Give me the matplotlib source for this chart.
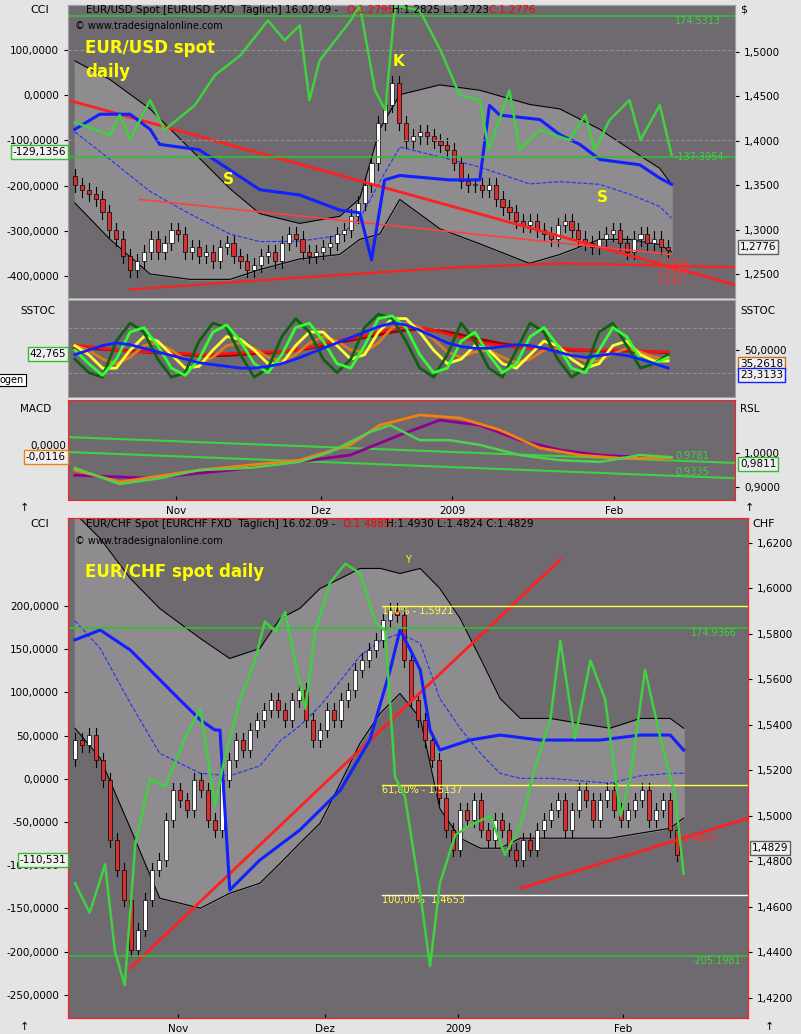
import matplotlib
matplotlib.use("Agg")
import matplotlib.pyplot as plt
import numpy as np

W, H = 801, 1034
BG = "#6e6a70"
PANEL = "#e4e4e4"

# ---------------- data: EUR/USD ----------------
usd_close = [1.350,1.345,1.340,1.335,1.320,1.300,1.290,1.270,1.255,1.265,1.275,1.290,1.275,
             1.285,1.300,1.295,1.275,1.280,1.270,1.275,1.265,1.280,1.285,1.270,1.265,1.255,1.260,1.270,1.275,1.265,1.285,1.295,1.290,
             1.275,1.270,1.275,1.280,1.285,1.295,1.300,1.315,1.330,1.350,1.375,1.420,1.440,1.465,1.420,1.400,1.405,1.410,1.405,1.400,1.395,
             1.390,1.375,1.355,1.350,1.350,1.345,1.350,1.335,1.325,1.320,1.310,1.305,1.310,1.300,1.295,1.290,1.305,1.310,1.300,1.290,1.285,
             1.280,1.290,1.295,1.300,1.285,1.275,1.290,1.295,1.285,1.290,1.280,1.2776]
usd_open0 = 1.360
usd_cci_x = [0,5.1,6.5,8,10.9,13,17.4,20.3,24,28,30.4,32.6,34,35.5,40,41.3,43.5,45,46.4,50,53,55.8,58.7,60,63,64.5,67.4,71.7,74,75.4,77.5,80.4,82,84.8,86.5]
usd_cci_y = [-60,-88,-44,-99,-11,-77,-22,44,88,165,121,154,-11,77,165,198,11,-33,198,187,99,0,-11,-121,11,-121,-77,-99,-44,-121,-55,-11,-99,-22,-132]
usd_blue_x = [0,3.6,8,10.9,12.3,18,22.5,26.8,32.6,38.4,41.3,43,44.9,47.1,54.3,58.7,60.1,61.6,67.4,70.3,73.2,76.1,81.9,84.8,86.5]
usd_blue = [1.413,1.430,1.430,1.413,1.396,1.390,1.367,1.345,1.339,1.322,1.319,1.266,1.356,1.361,1.356,1.356,1.440,1.429,1.424,1.407,1.396,1.379,1.373,1.358,1.351]
usd_bb_x = [0,5.1,10.9,16.7,22.5,26.8,32.6,38.4,41.3,44.2,47.1,52.9,58.7,65.9,70.3,76.1,80.4,84.8,86.5]
usd_bb_up = [1.490,1.469,1.436,1.391,1.346,1.318,1.307,1.315,1.335,1.413,1.452,1.463,1.457,1.441,1.436,1.413,1.391,1.369,1.351]
usd_bb_lo = [1.330,1.289,1.250,1.244,1.244,1.255,1.267,1.272,1.289,1.295,1.334,1.301,1.284,1.262,1.272,1.289,1.289,1.283,1.275]
usd_trend_x = [-1.0, 95.7]
usd_trend_y = [1.446, 1.238]
usd_trend2_x = [9.4, 86.5]
usd_trend2_y = [1.334, 1.272]
usd_curve_x = [8, 32.6, 54.3, 70.3, 83.3, 95.7]
usd_curve_y = [1.2326, 1.246, 1.257, 1.262, 1.260, 1.2574]

# SSTOC (sampled every 2 days)
st_x = list(range(0, 88, 2))
st_dkgreen = [40,25,20,60,80,70,40,20,25,60,80,75,45,20,30,65,85,70,40,25,40,75,90,85,60,30,20,45,80,60,30,20,50,80,70,40,20,30,70,80,55,30,35,45]
st_green = [50,35,22,40,70,75,55,30,22,40,70,78,60,35,25,45,75,80,60,35,30,55,85,88,75,45,25,30,60,70,45,25,35,65,75,55,30,25,50,75,65,40,35,42]
st_yellow = [55,45,30,30,50,65,60,45,30,32,50,65,62,50,35,35,55,70,70,55,40,45,70,85,85,70,50,35,40,55,50,35,30,45,60,55,40,30,35,55,60,45,38,38]
st_orange = [55,50,40,35,42,55,58,50,40,36,42,55,58,52,42,38,45,58,65,60,50,48,58,75,80,75,62,48,42,48,50,42,36,40,50,52,45,38,38,46,52,48,42,40]
st_red = [55,54,52,50,48,48,48,47,46,45,45,46,47,48,48,48,50,53,57,60,63,66,70,74,76,75,72,68,64,60,57,55,53,52,52,52,51,50,50,50,50,49,48,48]
st_dkred = [52,52,51,50,49,48,47,46,45,44,44,44,45,46,47,48,50,52,55,58,61,64,67,70,72,73,72,70,67,63,60,57,55,53,52,51,50,50,49,49,49,48,48,47]
st_blue = [45,50,55,58,56,52,48,44,40,36,34,32,30,30,32,35,40,46,52,58,64,70,76,80,78,72,65,58,54,52,52,54,56,55,52,48,44,42,44,46,44,40,35,30]

# RSL / MACD
orange_x = [0,6.5,18,32.6,39.9,44.2,50,55.8,61.6,67.4,73.2,79,86.5]
orange_y = [0.950,0.915,0.950,0.979,1.024,1.082,1.112,1.103,1.068,1.015,0.994,0.985,0.985]
green_x = [0,6.5,12.3,18,25.4,32.6,37,42.8,45.7,50,54.3,58.7,64.5,70.3,76.1,81.9,86.5]
green_y = [0.956,0.909,0.926,0.950,0.956,0.974,1.003,1.062,1.082,1.038,1.038,1.024,0.994,0.979,0.974,0.994,0.988]
purple_x = [0,10.9,25.4,39.9,47.1,52.9,58.7,64.5,70.3,76.1,81.9,86.5]
purple_y = [0.935,0.926,0.956,0.994,1.053,1.097,1.082,1.038,1.009,0.994,0.988,0.985]
rsl_lines_x = [-1.0, 95.7]
rsl_line1 = [1.047, 0.971]
rsl_line2 = [1.003, 0.926]

# ---------------- data: EUR/CHF ----------------
chf_close = [1.5334,1.5312,1.5356,1.5246,1.5158,1.4894,1.4763,1.4631,1.4411,1.4499,1.4631,1.4763,1.4807,
             1.4982,1.5114,1.5070,1.5026,1.5158,1.5114,1.4982,1.4938,1.5158,1.5246,1.5334,1.5290,1.5378,1.5422,1.5466,1.5510,1.5466,1.5422,1.5510,1.5554,
             1.5422,1.5334,1.5378,1.5466,1.5422,1.5510,1.5554,1.5642,1.5686,1.5730,1.5774,1.5862,1.5905,1.5884,1.5686,1.5510,1.5422,1.5334,1.5246,1.5080,1.4938,
             1.4851,1.5026,1.4982,1.5070,1.4938,1.4894,1.4982,1.4938,1.4851,1.4807,1.4894,1.4851,1.4938,1.4982,1.5026,1.5070,1.4938,1.5026,1.5114,1.5070,1.4982,
             1.5070,1.5114,1.5026,1.4982,1.5026,1.5070,1.5114,1.4982,1.5026,1.5070,1.4938,1.4829]
chf_open0 = 1.525
chf_cci_x = [0,2.1,4.3,5.7,7.1,8.6,10.7,12.9,15.7,17.9,20,21.4,23.6,25.7,27.1,28.6,30,31.4,32.9,34.3,36.4,38.6,40.7,42.9,44.3,45.7,47.1,49.3,50.7,52.1,54.3,56.4,59.3,61.4,63.6,65.7,67.9,69.3,71.4,73.6,75.7,77.9,79.3,81.4,83.6,85.7,86.9]
chf_cci = [-121,-155,-99,-200,-239,-76,0,-9,47,81,-31,25,92,137,182,171,193,137,81,171,227,249,238,182,171,2,-20,-133,-217,-121,-65,-54,-43,-88,-54,13,70,160,47,137,92,-43,2,126,47,-20,-110]
chf_blue_x = [0,3.6,7.9,15,17.9,20,20.7,22.1,26.4,32.1,37.9,42.1,45,46.4,47.9,49.3,50.7,52.1,56.4,60.7,66.4,75,80.7,85,86.9]
chf_blue = [1.5774,1.5817,1.5729,1.5509,1.5421,1.5377,1.5377,1.4673,1.4805,1.4937,1.5113,1.5333,1.5641,1.5817,1.5729,1.5641,1.5377,1.5289,1.5333,1.5355,1.5333,1.5333,1.5355,1.5355,1.5289]
chf_bb_x = [0,3.6,7.9,12.1,17.9,22.1,26.4,29.3,32.1,35,37.9,40.7,43.6,46.4,49.3,52.1,55,57.9,60.7,63.6,67.9,72.1,76.4,80.7,85,86.9]
chf_bb_up = [1.6330,1.6220,1.6044,1.5912,1.5780,1.5692,1.5736,1.5868,1.5912,1.6000,1.6044,1.6088,1.6088,1.6066,1.6088,1.6000,1.5868,1.5692,1.5516,1.5428,1.5428,1.5406,1.5385,1.5428,1.5428,1.5385]
chf_bb_lo = [1.5385,1.5253,1.4945,1.4637,1.4593,1.4659,1.4703,1.4791,1.4879,1.4967,1.5143,1.5319,1.5451,1.5538,1.5429,1.5031,1.4901,1.4857,1.4857,1.4901,1.4901,1.4901,1.4901,1.4923,1.4945,1.4989]
chf_trend_x = [7.9, 69.3]
chf_trend_y = [1.4330, 1.6127]
chf_trend2_x = [63.6, 96.1]
chf_trend2_y = [1.4681, 1.4989]
chf_fib = [1.5921, 1.5137, 1.4653]

months = ["Nov", "Dez", "2009", "Feb"]
month_pos = [14.7, 35.7, 54.7, 78.2]

# ---------------- helpers ----------------
fig = plt.figure(figsize=(W/100, H/100), dpi=100)
fig.patch.set_facecolor(PANEL)

def rect(x0, y0, x1, y1):
    return [x0/W, 1-y1/H, (x1-x0)/W, (y1-y0)/H]

def ftext(x, y, s, **kw):
    fig.text(x/W, 1-y/H, s, **kw)

def boxlabel(x, y, s, ec, side="left"):
    fig.text(x/W, 1-y/H, s, fontsize=7.5, va="center", ha="left" if side=="right" else "right",
             bbox=dict(boxstyle="square,pad=0.15", fc="#f0f0f0", ec=ec, lw=1), zorder=20)

def style(ax):
    ax.set_facecolor(BG)
    for s in ax.spines.values():
        s.set_color("#a0a0a0")
    ax.tick_params(labelsize=7.5, length=3, colors="black")

def right_only(ax):
    ax.yaxis.tick_right()
    ax.tick_params(axis="y", left=False, labelleft=False, right=True, labelright=True)

def left_only(ax):
    ax.yaxis.tick_left()
    ax.tick_params(axis="y", right=False, labelright=False, left=True, labelleft=True)

def candles(ax, o0, closes, wick):
    opens = [o0] + closes[:-1]
    for i, (o, c) in enumerate(zip(opens, closes)):
        hi, lo = max(o, c) + wick, min(o, c) - wick
        ax.plot([i, i], [lo, hi], color="black", lw=0.8, zorder=3)
        col = "white" if c >= o else "#d83030"
        ax.bar(i, max(abs(c-o), wick*0.15), bottom=min(o, c), width=0.6, color=col,
               edgecolor="black", lw=0.5, zorder=4)

# ---------------- top panel ----------------
ax1 = fig.add_axes(rect(68, 5, 735, 298))
style(ax1)
ax1.set_xlim(-1.0, 95.7)
ax1.set_ylim(1.223, 1.553)
ax1.set_xticks([])
ax1.fill_between(usd_bb_x, usd_bb_lo, usd_bb_up, color="#8e8c8e", zorder=1)
ax1.plot(usd_bb_x, usd_bb_up, color="black", lw=0.8, zorder=2)
ax1.plot(usd_bb_x, usd_bb_lo, color="black", lw=0.8, zorder=2)
mid = [(a+b)/2 for a, b in zip(usd_bb_up, usd_bb_lo)]
ax1.plot(usd_bb_x, mid, color="#2030ff", lw=0.8, ls="--", zorder=2)
candles(ax1, usd_open0, usd_close, 0.008)
ax1.plot(usd_trend_x, usd_trend_y, color="#ff2020", lw=2, zorder=5)
ax1.plot(usd_trend2_x, usd_trend2_y, color="#ff4040", lw=1.2, zorder=5)
ax1.plot(usd_curve_x, usd_curve_y, color="#ff2020", lw=1.6, zorder=5)
ax1.plot(usd_blue_x, usd_blue, color="#1020ff", lw=2.2, zorder=6)
for t, y in [("1.2574", 1.2615), ("1.2509", 1.2515), ("1.245", 1.2415)]:
    ax1.text(84.5, y, t, color="#ff3030", fontsize=6.5, va="center", zorder=7)
cc1 = ax1.twinx()
cc1.set_ylim(-448, 199)
cc1.set_yticks([100, 0, -100, -200, -300, -400])
cc1.set_yticklabels(["100,0000", "0,0000", "-100,0000", "-200,0000", "-300,0000", "-400,0000"])
cc1.tick_params(labelsize=7.5, length=3)
left_only(cc1)
right_only(ax1)
ax1.set_yticks([1.25, 1.30, 1.35, 1.40, 1.45, 1.50])
ax1.set_yticklabels(["1,2500", "1,3000", "1,3500", "1,4000", "1,4500", "1,5000"])
for v in [100, -100]:
    cc1.axhline(v, color="#909090", lw=0.8, ls="--", zorder=1)
cc1.axhline(174.53, color="#30c030", lw=1.2)
cc1.axhline(-137.40, color="#30c030", lw=1.2)
cc1.plot(usd_cci_x, usd_cci_y, color="#40d040", lw=1.8)
cc1.text(87, 174.53, "174.5313", color="#40d040", fontsize=7, va="top")
cc1.text(87, -137.40, "-137.3954", color="#40d040", fontsize=7, va="center")
cc1.set_xlim(-1.0, 95.7)
for s in cc1.spines.values():
    s.set_color("#a0a0a0")

ftext(85, 48, "EUR/USD spot", color="#ffff00", fontsize=12, weight="bold", va="center")
ftext(85, 72, "daily", color="#ffff00", fontsize=12, weight="bold", va="center")
ftext(398, 62, "K", color="#ffff00", fontsize=11, weight="bold", ha="center", va="center")
ftext(228, 180, "S", color="#ffff00", fontsize=11, weight="bold", ha="center", va="center")
ftext(602, 197, "S", color="#ffff00", fontsize=11, weight="bold", ha="center", va="center")
ftext(86, 10, "EUR/USD Spot [EURUSD FXD  Täglich] 16.02.09 - ", fontsize=7.5, va="center")
ftext(346, 10, "O:1.2795", fontsize=7.5, va="center", color="red")
ftext(392, 10, "H:1.2825 L:1.2723", fontsize=7.5, va="center")
ftext(488, 10, "C:1.2776", fontsize=7.5, va="center", color="red")
ftext(75, 26, "© www.tradesignalonline.com", fontsize=7, va="center")
ftext(30, 10, "CCI", fontsize=8, va="center")
ftext(740, 10, "$", fontsize=8, va="center")
boxlabel(66, 152, "-129,1356", "#30c030")
boxlabel(740, 247, "1,2776", "#606060", side="right")

# ---------------- SSTOC ----------------
ax2 = fig.add_axes(rect(68, 300, 735, 397))
style(ax2)
ax2.set_xlim(-1.0, 95.7)
ax2.set_ylim(-2, 105.6)
ax2.set_xticks([])
right_only(ax2)
ax2.set_yticks([50])
ax2.set_yticklabels(["50,0000"])
ax2.axhline(75, color="#909090", lw=0.8, ls="--")
ax2.axhline(25, color="#909090", lw=0.8, ls="--")
for ys, col in [(st_dkred, "#a00000"), (st_red, "#ff1010"), (st_orange, "#e07820"), (st_yellow, "#ffff30"),
                (st_dkgreen, "#106010"), (st_green, "#30ff30"), (st_blue, "#1020ff")]:
    ax2.plot(st_x, ys, color=col, lw=2)
ftext(20, 311, "SSTOC", fontsize=7.5, va="center")
ftext(740, 311, "SSTOC", fontsize=7.5, va="center")
boxlabel(66, 354, "42,765", "#30c030")
ftext(0, 380, "ogen", fontsize=7, va="center",
      bbox=dict(boxstyle="square,pad=0.15", fc="white", ec="black", lw=0.8))
boxlabel(740, 364, "35,2618", "#c07020", side="right")
boxlabel(740, 375, "23,3133", "#1020ff", side="right")

# ---------------- RSL / MACD ----------------
ax3 = fig.add_axes(rect(68, 400, 735, 500))
style(ax3)
for s in ax3.spines.values():
    s.set_color("#ff2020")
ax3.set_xlim(-1.0, 95.7)
ax3.set_ylim(0.862, 1.156)
right_only(ax3)
ax3.set_yticks([0.9, 1.0])
ax3.set_yticklabels(["0,9000", "1,0000"])
ax3.set_xticks(month_pos)
ax3.set_xticklabels(months)
ax3.tick_params(axis="x", direction="in", pad=4)
ax3.plot(rsl_lines_x, rsl_line1, color="#40d040", lw=1.5)
ax3.plot(rsl_lines_x, rsl_line2, color="#40d040", lw=1.5)
ax3.plot(purple_x, purple_y, color="#900090", lw=2)
ax3.plot(orange_x, orange_y, color="#f08010", lw=2)
ax3.plot(green_x, green_y, color="#50d050", lw=1.8)
ax3.text(87, 0.990, "0.9781", color="#40d040", fontsize=7, va="center")
ax3.text(87, 0.945, "0.9335", color="#40d040", fontsize=7, va="center")
ftext(20, 409, "MACD", fontsize=7.5, va="center")
ftext(740, 409, "RSL", fontsize=7.5, va="center")
ftext(30, 446, "0,0000", fontsize=7.5, va="center")
boxlabel(66, 457, "-0,0116", "#f08010")
boxlabel(740, 464, "0,9811", "#30c030", side="right")

# ---------------- EUR/CHF ----------------
ax4 = fig.add_axes(rect(68, 518, 748, 1018))
style(ax4)
for s in ax4.spines.values():
    s.set_color("#ff2020")
ax4.set_xlim(-1.0, 96.1)
ax4.set_ylim(1.411, 1.631)
ax4.set_xticks(month_pos)
ax4.set_xticklabels(months)
ax4.tick_params(axis="x", direction="in", pad=4)
ax4.fill_between(chf_bb_x, chf_bb_lo, chf_bb_up, color="#8e8c8e", zorder=1)
ax4.plot(chf_bb_x, chf_bb_up, color="black", lw=0.8, zorder=2)
ax4.plot(chf_bb_x, chf_bb_lo, color="black", lw=0.8, zorder=2)
mid2 = [(a+b)/2 for a, b in zip(chf_bb_up, chf_bb_lo)]
ax4.plot(chf_bb_x, mid2, color="#2030ff", lw=0.8, ls="--", zorder=2)
candles(ax4, chf_open0, chf_close, 0.003)
ax4.plot(chf_trend_x, chf_trend_y, color="#ff2020", lw=2, zorder=5)
ax4.plot(chf_trend2_x, chf_trend2_y, color="#ff2020", lw=2, zorder=5)
ax4.plot(chf_blue_x, chf_blue, color="#1020ff", lw=2.2, zorder=6)
fx0 = 43.8
ax4.plot([fx0, 96.1], [chf_fib[0]]*2, color="#ffff40", lw=1, zorder=5)
ax4.plot([fx0, 96.1], [chf_fib[1]]*2, color="#ffff40", lw=1, zorder=5)
ax4.plot([fx0, 96.1], [chf_fib[2]]*2, color="white", lw=1, zorder=5)
ax4.text(fx0, chf_fib[0], "100% - 1,5921", color="#ffff40", fontsize=7, va="top", zorder=7)
ax4.text(fx0, chf_fib[1], "61,80% - 1,5137", color="#ffff40", fontsize=7, va="top", zorder=7)
ax4.text(fx0, chf_fib[2], "100,00%  1,4653", color="#ffff40", fontsize=7, va="top", zorder=7)
ax4.text(87, 1.4897, "1.4897", color="#ff3030", fontsize=7, va="center", zorder=7)
cc4 = ax4.twinx()
cc4.set_xlim(-1.0, 96.1)
cc4.set_ylim(-277, 302)
ct = [200, 150, 100, 50, 0, -50, -100, -150, -200, -250]
cc4.set_yticks(ct)
cc4.set_yticklabels([f"{v},0000" for v in ct])
cc4.tick_params(labelsize=7.5, length=3)
left_only(cc4)
right_only(ax4)
pt = [1.42, 1.44, 1.46, 1.48, 1.50, 1.52, 1.54, 1.56, 1.58, 1.60, 1.62]
ax4.set_yticks(pt)
ax4.set_yticklabels([f"{p:.4f}".replace(".", ",") for p in pt])
for s in cc4.spines.values():
    s.set_color("#ff2020")
cc4.axhline(174.94, color="#30c030", lw=1.2)
cc4.axhline(-205.20, color="#30c030", lw=1.2)
cc4.plot(chf_cci_x, chf_cci, color="#40d040", lw=1.8)
cc4.text(88, 174.94, "174.9366", color="#40d040", fontsize=7, va="top")
cc4.text(88, -205.2, "-205.1981", color="#40d040", fontsize=7, va="top")

ftext(85, 572, "EUR/CHF spot daily", color="#ffff00", fontsize=12, weight="bold", va="center")
ftext(408, 560, "Y", color="#ffff00", fontsize=7, ha="center", va="center")
ftext(86, 524, "EUR/CHF Spot [EURCHF FXD  Täglich] 16.02.09 - ", fontsize=7.5, va="center")
ftext(342, 524, "O:1.4885", fontsize=7.5, va="center", color="red")
ftext(386, 524, "H:1.4930 L:1.4824 C:1.4829", fontsize=7.5, va="center")
ftext(75, 541, "© www.tradesignalonline.com", fontsize=7, va="center")
ftext(30, 524, "CCI", fontsize=8, va="center")
ftext(752, 524, "CHF", fontsize=8, va="center")
boxlabel(66, 860, "-110,531", "#30c030")
boxlabel(752, 848, "1,4829", "#606060", side="right")
ftext(20, 508, "↑", fontsize=8, va="center")
ftext(745, 508, "↑", fontsize=8, va="center")
ftext(20, 1027, "↑", fontsize=8, va="center")
ftext(765, 1027, "↑", fontsize=8, va="center")

fig.savefig("out.png", dpi=100, facecolor=fig.get_facecolor())
